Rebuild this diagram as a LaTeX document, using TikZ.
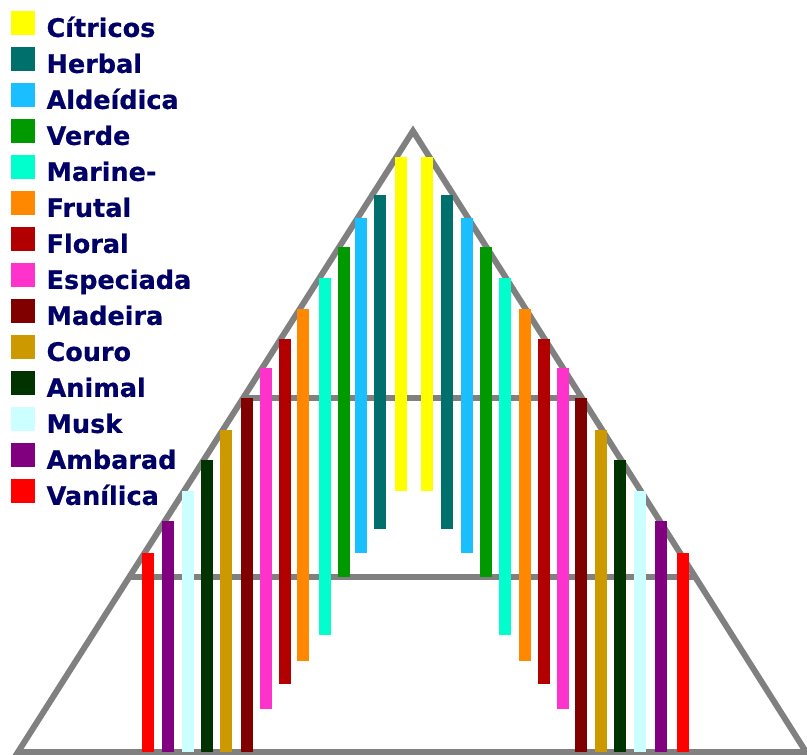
\documentclass[tikz,border=0pt]{standalone}
\usepackage{fontspec}
\setmainfont{DejaVu Sans}
\newfontfamily\legendfont{DejaVu Sans}[UprightFont=*-Bold, FakeBold=0.6]
\usepackage{tikz}
\usetikzlibrary{positioning, calc}
\usepackage{xcolor}

\definecolor{citricos}{RGB}{255,255,0}
\definecolor{herbal}{RGB}{0,112,108}
\definecolor{aldeidica}{RGB}{26,191,255}
\definecolor{verde}{RGB}{0,153,0}
\definecolor{marine}{RGB}{0,255,204}
\definecolor{frutal}{RGB}{255,136,0}
\definecolor{floral}{RGB}{178,0,0}
\definecolor{especiada}{RGB}{255,51,204}
\definecolor{madeira}{RGB}{128,0,0}
\definecolor{couro}{RGB}{204,153,0}
\definecolor{animal}{RGB}{0,51,0}
\definecolor{musk}{RGB}{204,255,255}
\definecolor{ambarad}{RGB}{128,0,128}
\definecolor{vanilica}{RGB}{255,0,0}
\definecolor{legendtext}{RGB}{0,0,102}
\definecolor{framegray}{RGB}{128,128,128}

\begin{document}
\begin{tikzpicture}[x=1pt,y=-1pt,
    frame/.style={line width=6pt, draw=framegray},
    swatch/.style={fill=#1, minimum width=24pt, minimum height=24pt, inner sep=0pt},
    legendlabel/.style={font=\legendfont\fontsize{25.5}{30}\selectfont, text=legendtext, inner sep=0pt, anchor=base west}]
    \useasboundingbox (0,0) rectangle (807,755);

    % Pyramid coordinates
    \coordinate (A) at (413,131);
    \coordinate (L) at (18,752);
    \coordinate (R) at (806,752);
    \coordinate (UL) at ($(A)!0.43!(L)$);
    \coordinate (UR) at ($(A)!0.43!(R)$);
    \coordinate (ML) at ($(A)!0.718!(L)$);
    \coordinate (MR) at ($(A)!0.718!(R)$);

    % Pyramid and its levels
    \draw[frame] (L) -- (R) -- (A) -- cycle;
    \draw[frame] (UL) -- (UR);
    \draw[frame] (ML) -- (MR);

    % Bars: colour / left x / right x / top / bottom
    \foreach \col/\xl/\xr/\top/\bot in {
        citricos/401/426.5/157/491,
        herbal/380/447/194.5/529,
        aldeidica/361/467/218/552.5,
        verde/343.5/486/247/577,
        marine/324.5/505/278/635,
        frutal/303/525/309/660.5,
        floral/284.7/544/339/684,
        especiada/265.5/563/368/708.5,
        madeira/247/581/398/752,
        couro/226/601/430/752,
        animal/207/620/459.5/752,
        musk/188/640/491/752,
        ambarad/168/661/520.5/752,
        vanilica/148/683/553/752}{
        \fill[\col] (\xl-6,\top) rectangle (\xl+6,\bot);
        \fill[\col] (\xr-6,\top) rectangle (\xr+6,\bot);
    }

    % Legend
    \foreach \col/\txt [count=\i from 0] in {
        citricos/Cítricos, herbal/Herbal, aldeidica/Aldeídica,
        verde/Verde, marine/Marine-, frutal/Frutal, floral/Floral,
        especiada/Especiada, madeira/Madeira, couro/Couro,
        animal/Animal, musk/Musk, ambarad/Ambarad, vanilica/Vanílica}{
        \node[swatch=\col, anchor=north west] (sw\col) at (11,11+36*\i) {};
        \node[legendlabel] (lb\col) at ([xshift=11pt,yshift=-1.5pt]sw\col.south east) {\txt};
    }

\end{tikzpicture}
\end{document}
